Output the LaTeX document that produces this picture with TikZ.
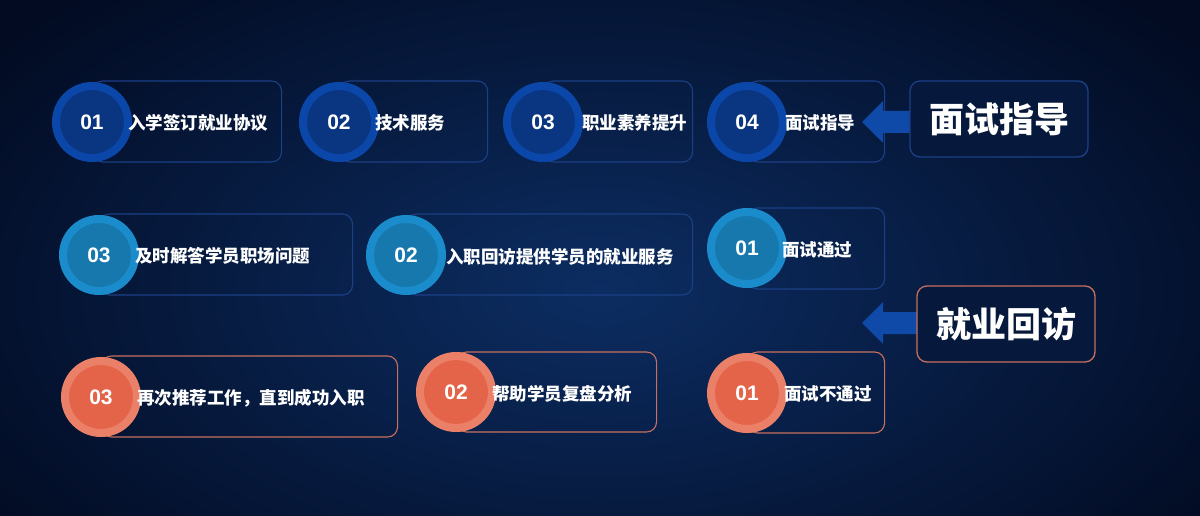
\documentclass[tikz,border=0pt]{standalone}
\usepackage{fontspec}
\setmainfont{Noto Sans CJK SC}
\newfontfamily\numfont{Liberation Sans}
\usetikzlibrary{positioning,calc}
\definecolor{bgdark}{HTML}{020B22}
\definecolor{bglight}{HTML}{0C2D62}
\definecolor{ringA}{HTML}{0B47A8}
\definecolor{innerA}{HTML}{0A3580}
\definecolor{ringB}{HTML}{1A8CCC}
\definecolor{innerB}{HTML}{1778AD}
\definecolor{ringC}{HTML}{EB8068}
\definecolor{innerC}{HTML}{E4644A}
\definecolor{edgeA}{HTML}{1C3F86}
\definecolor{edgeC}{HTML}{C8705E}
\definecolor{arrowc}{HTML}{0F4AA8}
\tikzset{
  numring/.style 2 args={circle, inner sep=0pt, minimum size=72pt, line width=8pt,
    draw=#1, fill=#2, text=white, font=\numfont\bfseries\fontsize{21}{24}\selectfont},
  stepbox/.style={rectangle, rounded corners=10pt, draw=#1, line width=1.1pt,
    anchor=west, inner sep=0pt},
  steplabel/.style={anchor=west, inner sep=0pt, text=white,
    font=\bfseries\fontsize{17.5}{20}\selectfont},
  titlebox/.style={rectangle, rounded corners=10pt, draw=#1, line width=1.3pt,
    fill=bgdark!60!bglight, minimum width=178pt, minimum height=76pt, text=white,
    font=\bfseries\fontsize{35}{40}\selectfont},
  blockarrow/.style={fill=arrowc}
}
\begin{document}
\begin{tikzpicture}[x=1pt,y=-1pt]
\useasboundingbox (0,0) rectangle (1200,516);
\fill[bgdark] (0,0) rectangle (1200,516);
\shade[inner color=bglight, outer color=bgdark] (-150,-120) rectangle (1350,700);

% ---------- row 1 ----------
\node[stepbox=edgeA, minimum width=189pt, minimum height=81pt] (b11) at (92,121.5) {};
\node[stepbox=edgeA, minimum width=148pt, minimum height=81pt] (b12) at (339,121.5) {};
\node[stepbox=edgeA, minimum width=149pt, minimum height=81pt] (b13) at (543,121.5) {};
\node[stepbox=edgeA, minimum width=137pt, minimum height=81pt] (b14) at (747,121.5) {};
\node[numring={ringA}{innerA}] (c11) at (92,122) {01};
\node[numring={ringA}{innerA}] (c12) at (339,122) {02};
\node[numring={ringA}{innerA}] (c13) at (543,122) {03};
\node[numring={ringA}{innerA}] (c14) at (747,122) {04};
\node[steplabel] (l11) at (128,123) {入学签订就业协议};
\node[steplabel] (l12) at (375,123) {技术服务};
\node[steplabel] (l13) at (582,123) {职业素养提升};
\node[steplabel] (l14) at (785,123) {面试指导};

\coordinate (tipA) at (862,122);
\fill[blockarrow] (tipA) -- ++(21,-21) -- ++(0,10) -- ++(30,0) -- ++(0,22)
  -- ++(-30,0) -- ++(0,10) -- cycle;
\node[titlebox=edgeA] (tA) at (999,119) {面试指导};

% ---------- row 2 ----------
\node[stepbox=edgeA, minimum width=253pt, minimum height=81pt] (b21) at (99,254.5) {};
\node[stepbox=edgeA, minimum width=286pt, minimum height=81pt] (b22) at (406,254.5) {};
\node[stepbox=edgeA, minimum width=137pt, minimum height=81pt] (b23) at (747,248.5) {};
\node[numring={ringB}{innerB}] (c21) at (99,255) {03};
\node[numring={ringB}{innerB}] (c22) at (406,255) {02};
\node[numring={ringB}{innerB}] (c23) at (747,248) {01};
\node[steplabel] (l21) at (135,256) {及时解答学员职场问题};
\node[steplabel] (l22) at (446,257) {入职回访提供学员的就业服务};
\node[steplabel] (l23) at (782,250) {面试通过};

\coordinate (tipB) at (862,323);
\fill[blockarrow] (tipB) -- ++(21,-21) -- ++(0,10) -- ++(34,0) -- ++(0,22)
  -- ++(-34,0) -- ++(0,10) -- cycle;
\node[titlebox=edgeC] (tB) at (1006,324) {就业回访};

% ---------- row 3 ----------
\node[stepbox=edgeC, minimum width=296pt, minimum height=81pt] (b31) at (101,396.5) {};
\node[stepbox=edgeC, minimum width=200pt, minimum height=80pt] (b32) at (456,392) {};
\node[stepbox=edgeC, minimum width=137pt, minimum height=81pt] (b33) at (747,392.5) {};
\node[numring={ringC}{innerC}] (c31) at (101,397) {03};
\node[numring={ringC}{innerC}] (c32) at (456,392) {02};
\node[numring={ringC}{innerC}] (c33) at (747,393) {01};
\node[steplabel] (l31) at (137,398) {再次推荐工作，直到成功入职};
\node[steplabel] (l32) at (492,394) {帮助学员复盘分析};
\node[steplabel] (l33) at (784,394) {面试不通过};
\end{tikzpicture}
\end{document}
